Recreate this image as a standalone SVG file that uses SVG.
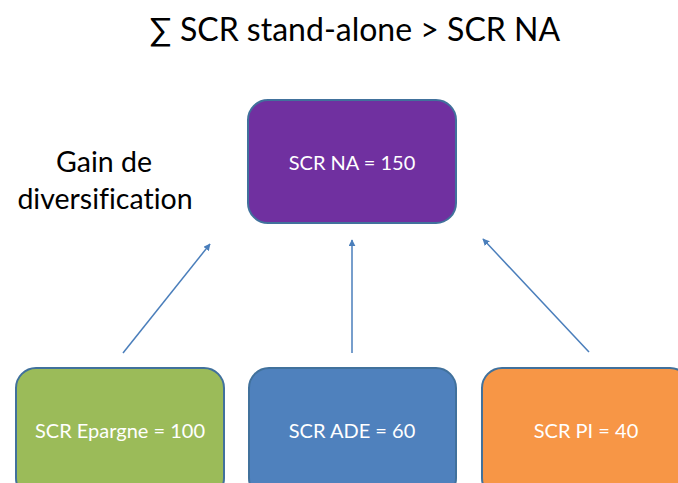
<svg xmlns="http://www.w3.org/2000/svg" width="678" height="483" viewBox="0 0 678 483">
  <style>
    text { font-family: Lato, "Open Sans", "Liberation Sans", sans-serif; font-variant-ligatures: none; }
    .box { stroke: #41719C; stroke-width: 2; }
    .lbl { fill: #ffffff; font-size: 20px; text-anchor: middle; dominant-baseline: central; }
    .head { fill: #000000; text-anchor: middle; }
    .conn { stroke: #4A7EBB; stroke-width: 1.5; fill: none; marker-end: url(#arrow); }
  </style>
  <defs>
    <marker id="arrow" viewBox="0 0 10 10" refX="9" refY="5" markerWidth="7" markerHeight="7" orient="auto" markerUnits="userSpaceOnUse">
      <path d="M0,0 L10,5 L0,10 z" fill="#4A7EBB"/>
    </marker>
  </defs>
  <rect width="678" height="483" fill="#ffffff"/>

  <text class="head" x="355" y="41" font-size="32">∑ SCR stand-alone &gt; SCR NA</text>
  <text class="head" x="104" y="172" font-size="28.5">Gain de</text>
  <text class="head" x="105" y="209" font-size="28.5">diversification</text>

  <g id="connectors">
    <line class="conn" x1="123" y1="353" x2="210" y2="244"/>
    <line class="conn" x1="352" y1="353" x2="352" y2="240"/>
    <line class="conn" x1="589" y1="352" x2="483" y2="239"/>
  </g>

  <g id="scr-na">
    <rect class="box" x="248" y="100" width="208" height="123" rx="20" fill="#7030A0"/>
    <text class="lbl" x="352" y="162">SCR NA = 150</text>
  </g>
  <g id="scr-epargne">
    <rect class="box" x="16" y="368" width="208" height="130" rx="20" fill="#9BBB59"/>
    <text class="lbl" x="120" y="430">SCR Epargne = 100</text>
  </g>
  <g id="scr-ade">
    <rect class="box" x="249" y="368" width="207" height="130" rx="20" fill="#4F81BD"/>
    <text class="lbl" x="352" y="430">SCR ADE = 60</text>
  </g>
  <g id="scr-pi">
    <rect class="box" x="482" y="368" width="208" height="130" rx="20" fill="#F79646"/>
    <text class="lbl" x="586" y="430">SCR PI = 40</text>
  </g>
</svg>
